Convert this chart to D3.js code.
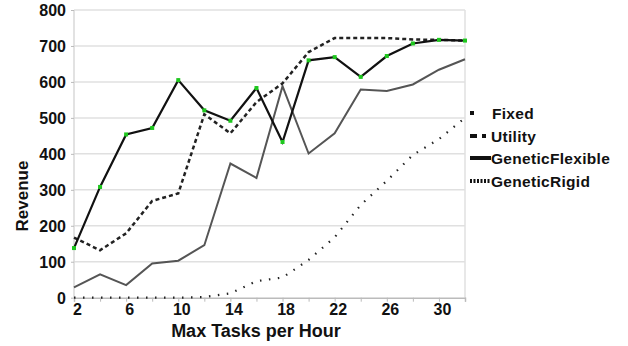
<!DOCTYPE html>
<html><head><meta charset="utf-8">
<script src="https://cdn.jsdelivr.net/npm/d3@7"></script>
<style>body{margin:0;background:#fff}svg{display:block}text{font-family:"Liberation Sans",Arial,sans-serif}</style>
</head><body><svg id="c" width="628" height="346"></svg>
<script>
const categories = [2,4,6,8,10,12,14,16,18,20,22,24,26,28,30,32];
const tickLabels = [2,6,10,14,18,22,26,30];
const yTicks = [0,100,200,300,400,500,600,700,800];
const fixed = [0,0,0,0,0,2,12,46,56,105,168,258,325,397,441,500];
const utility = [167,132,179,269,290,510,457,544,596,683,722,722,722,718,717,715];
const geneticFlexible = [138,308,454,472,605,521,492,583,433,660,669,614,672,707,717,715];
const geneticRigid = [29,65,35,95,103,146,373,333,588,401,457,579,575,593,634,663];
const seriesNames = ["Fixed","Utility","GeneticFlexible","GeneticRigid"];

const svg = d3.select("#c");
const x = d3.scalePoint().domain(categories).range([74,465]);
const y = d3.scaleLinear().domain([0,800]).range([297.7,10]);

// gridlines
svg.append("g").selectAll("line").data(yTicks.slice(1)).join("line")
  .attr("x1",74).attr("x2",465).attr("y1",d=>y(d)).attr("y2",d=>y(d))
  .attr("stroke","#e0e0e0").attr("stroke-width",1.5);
svg.append("line").attr("x1",465).attr("x2",465).attr("y1",y(800)).attr("y2",y(0))
  .attr("stroke","#e0e0e0").attr("stroke-width",1.5);
svg.append("line").attr("x1",74).attr("x2",74).attr("y1",y(800)).attr("y2",y(0))
  .attr("stroke","#d8d8d8").attr("stroke-width",1.5);

// y axis
const ya = svg.append("g").attr("transform","translate(74,0)")
  .call(d3.axisLeft(y).tickValues(yTicks).tickSize(3).tickPadding(5));
ya.select(".domain").remove();
ya.selectAll("line").attr("stroke","#bbb");
ya.selectAll("text").attr("font-size",16).attr("font-weight","bold").attr("fill","#111").attr("dy","0.36em");

// x axis
const xa = svg.append("g").attr("transform","translate(0,"+y(0)+")")
  .call(d3.axisBottom(x).tickSize(4).tickPadding(2).tickFormat(d=>tickLabels.includes(d)?d:""));
xa.select(".domain").attr("stroke","#bbb").attr("stroke-width",1.5);
xa.selectAll("line").attr("stroke","#bbb");
xa.selectAll("text").attr("font-size",16).attr("font-weight","bold").attr("fill","#111").attr("dx","3");

svg.append("text").attr("x",256).attr("y",337).attr("text-anchor","middle")
  .attr("font-size",18).attr("font-weight","600").attr("fill","#111").text("Max Tasks per Hour");
svg.append("text").attr("transform","translate(28,196) rotate(-90)").attr("text-anchor","middle")
  .attr("font-size",17).attr("font-weight","600").attr("fill","#111").text("Revenue");

const line = d3.line().x((d,i)=>x(categories[i])).y(d=>y(d));
svg.append("path").attr("d",line(geneticRigid)).attr("fill","none").attr("stroke","#555").attr("stroke-width",2);
svg.append("path").attr("d",line(fixed)).attr("fill","none").attr("stroke","#222").attr("stroke-width",2.2)
  .attr("stroke-dasharray","1.5 7.5");
svg.append("path").attr("d",line(utility)).attr("fill","none").attr("stroke","#222").attr("stroke-width",2.5)
  .attr("stroke-dasharray","4 3");
svg.append("path").attr("d",line(geneticFlexible)).attr("fill","none").attr("stroke","#111").attr("stroke-width",2.2);
svg.append("g").selectAll("rect").data(geneticFlexible).join("rect")
  .attr("x",(d,i)=>x(categories[i])-2).attr("y",d=>y(d)-2).attr("width",4).attr("height",4).attr("fill","#1ec81e");

// legend
const lg = svg.append("g");
const ly = [113,136,158,181];
seriesNames.forEach((n,i)=>{
  lg.append("text").attr("x",i===0?492:491).attr("y",ly[i]).attr("dy","0.36em")
    .attr("font-size",15.5).attr("letter-spacing",0.3).attr("font-weight","bold").attr("fill","#111").text(n);
});
lg.append("rect").attr("x",470).attr("y",ly[0]-2).attr("width",4).attr("height",4).attr("fill","#111");
lg.append("rect").attr("x",470).attr("y",ly[1]-2).attr("width",7).attr("height",4).attr("fill","#111");
lg.append("rect").attr("x",482).attr("y",ly[1]-2).attr("width",4).attr("height",4).attr("fill","#111");
lg.append("rect").attr("x",470).attr("y",ly[2]-2).attr("width",21).attr("height",4).attr("fill","#111");
lg.append("line").attr("x1",470).attr("x2",491).attr("y1",ly[3]).attr("y2",ly[3]).attr("stroke","#111")
  .attr("stroke-width",4).attr("stroke-dasharray","2 1.5");
</script></body></html>
